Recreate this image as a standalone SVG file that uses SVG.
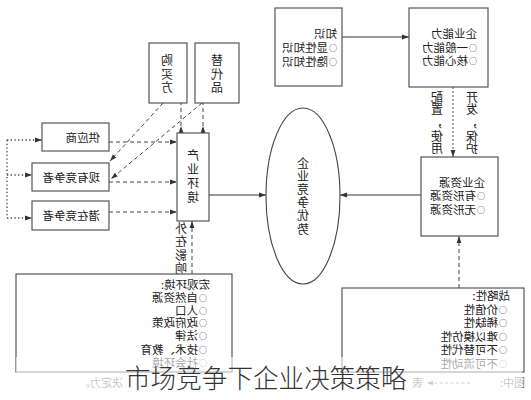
<svg xmlns="http://www.w3.org/2000/svg" width="531" height="400" viewBox="0 0 531 400">
<style>
.box{fill:#fff;stroke:#555;stroke-width:1.2}
.t{font-family:"Noto Sans CJK SC","Noto Sans CJK TC",sans-serif;font-size:11.5px;fill:#222}
.b{font-size:8px}
.v{font-family:"Noto Sans CJK SC","Noto Sans CJK TC",sans-serif;font-size:12px;fill:#222;text-anchor:middle}
.solid{stroke:#333;stroke-width:1;fill:none}
.dash{stroke:#444;stroke-width:1;stroke-dasharray:4 3;fill:none}
.fdash{stroke:#555;stroke-width:1;stroke-dasharray:2 2;fill:none}
.dot{stroke:#444;stroke-width:1.3;stroke-dasharray:1.3 2.4;fill:none}
.lg{font-family:"Noto Sans CJK SC",sans-serif;font-size:11px;fill:#777}
</style>
<defs>
<marker id="a" viewBox="0 0 7 6" refX="7" refY="3" markerWidth="7" markerHeight="6" markerUnits="userSpaceOnUse" orient="auto"><path d="M0,0.6 L7,3 L0,5.4 z" fill="#333"/></marker>
<marker id="s" viewBox="0 0 7 6" refX="0" refY="3" markerWidth="7" markerHeight="6" markerUnits="userSpaceOnUse" orient="auto"><path d="M0,0.6 L7,3 L0,5.4 z" fill="#333"/></marker>
</defs>
<rect width="531" height="400" fill="#fff"/>
<g transform="matrix(-1 0 0 1 531 0)">
<g id="connectors">
<path class="solid" d="M189,37 H122" marker-end="url(#a)"/>
<path class="fdash" d="M78,87 V157" marker-end="url(#a)"/>
<path class="solid" d="M110,195 H191" marker-end="url(#a)"/>
<path class="dash" d="M72,288 V236" marker-end="url(#a)"/>
<path class="solid" d="M322,195 H265" marker-end="url(#a)"/>
<path class="dash" d="M339,274 V221" marker-end="url(#a)"/>
<path class="dash" d="M422,142 H354" marker-end="url(#a)"/>
<path class="dash" d="M422,182 H354" marker-end="url(#a)"/>
<path class="dash" d="M422,212 H354" marker-end="url(#a)"/>
<path class="dash" d="M350,133 V103" marker-start="url(#s)"/>
<path class="dash" d="M328,133 V103" marker-start="url(#s)"/>
<path class="dash" d="M368,103 L421,161" marker-end="url(#a)"/>
<path class="dash" d="M329,103 L420,179" marker-end="url(#a)"/>
<path class="dot" d="M524,140 V218"/>
<path class="dot" d="M524,140 H489" marker-end="url(#a)"/>
<path class="dot" d="M524,175 H499" marker-end="url(#a)"/>
<path class="dot" d="M524,218 H499" marker-end="url(#a)"/>
<text class="v"><tspan x="59" y="101.5">开</tspan><tspan x="59" y="114">发</tspan><tspan x="59" y="127">，</tspan><tspan x="59" y="140.5">保</tspan><tspan x="59" y="152.5">护</tspan></text>
<text class="v"><tspan x="94" y="101.5">配</tspan><tspan x="94" y="114">置</tspan><tspan x="94" y="127">，</tspan><tspan x="94" y="140.5">使</tspan><tspan x="94" y="152.5">用</tspan></text>
<text class="v"><tspan x="350" y="232.5">外</tspan><tspan x="350" y="246">在</tspan><tspan x="350" y="259.5">影</tspan><tspan x="350" y="272.5">响</tspan></text>
</g>
<g id="n-knowledge"><rect class="box" x="189" y="8" width="67" height="78"/>
<text class="t" x="194" y="37.5">知识</text>
<text class="t" x="194" y="51.5"><tspan class="b" dy="-1">○</tspan><tspan dx="1" dy="1">显性知识</tspan></text>
<text class="t" x="194" y="65.5"><tspan class="b" dy="-1">○</tspan><tspan dx="1" dy="1">隐性知识</tspan></text></g>
<g id="n-ability"><rect class="box" x="43" y="8" width="79" height="79"/>
<text class="t" x="54" y="37.5">企业能力</text>
<text class="t" x="54" y="51.5"><tspan class="b" dy="-1">○</tspan><tspan dx="1" dy="1">一般能力</tspan></text>
<text class="t" x="54" y="65"><tspan class="b" dy="-1">○</tspan><tspan dx="1" dy="1">核心能力</tspan></text></g>
<g id="n-resource"><rect class="box" x="33" y="157" width="77" height="79"/>
<text class="t" x="46" y="186.5">企业资源</text>
<text class="t" x="46" y="200"><tspan class="b" dy="-1">○</tspan><tspan dx="1" dy="1">有形资源</tspan></text>
<text class="t" x="46" y="213.5"><tspan class="b" dy="-1">○</tspan><tspan dx="1" dy="1">无形资源</tspan></text></g>
<g id="n-advantage"><ellipse cx="228" cy="196" rx="37" ry="88" fill="#fff" stroke="#444" stroke-width="1.1"/>
<text class="v"><tspan x="228" y="167.5">企</tspan><tspan x="228" y="180.5">业</tspan><tspan x="228" y="193.5">竞</tspan><tspan x="228" y="206.5">争</tspan><tspan x="228" y="219.5">优</tspan><tspan x="228" y="233.5">势</tspan></text></g>
<g id="n-industry"><rect class="box" x="322" y="133" width="32" height="88"/>
<text class="v"><tspan x="338" y="159.5">产</tspan><tspan x="338" y="173.5">业</tspan><tspan x="338" y="187.5">环</tspan><tspan x="338" y="201.5">境</tspan></text></g>
<g id="n-buyer"><rect class="box" x="344" y="43" width="38" height="60"/>
<text class="v"><tspan x="364" y="64.5">购</tspan><tspan x="364" y="78.5">买</tspan><tspan x="364" y="92">方</tspan></text></g>
<g id="n-substitute"><rect class="box" x="292" y="43" width="44" height="60"/>
<text class="v"><tspan x="314" y="64.5">替</tspan><tspan x="314" y="78.5">代</tspan><tspan x="314" y="91.5">品</tspan></text></g>
<g id="n-supplier"><rect class="box" x="422" y="123" width="67" height="28"/>
<text class="t" x="431" y="142">供应商</text></g>
<g id="n-existing"><rect class="box" x="422" y="163" width="77" height="28"/>
<text class="t" x="431" y="182">现有竞争者</text></g>
<g id="n-potential"><rect class="box" x="422" y="201" width="77" height="29"/>
<text class="t" x="431" y="220">潜在竞争者</text></g>
<g id="n-macro"><rect class="box" x="299" y="274" width="216" height="98"/>
<text class="t" x="321" y="288.5">宏观环境:</text>
<text class="t" x="324" y="301.5"><tspan class="b" dy="-1">○</tspan><tspan dx="1" dy="1">自然资源</tspan></text>
<text class="t" x="324" y="314.5"><tspan class="b" dy="-1">○</tspan><tspan dx="1" dy="1">人口</tspan></text>
<text class="t" x="324" y="327"><tspan class="b" dy="-1">○</tspan><tspan dx="1" dy="1">政府政策</tspan></text>
<text class="t" x="324" y="340"><tspan class="b" dy="-1">○</tspan><tspan dx="1" dy="1">法律</tspan></text>
<text class="t" x="324" y="353.5"><tspan class="b" dy="-1">○</tspan><tspan dx="1" dy="1">技术、教育</tspan></text>
<text class="t" x="324" y="366.5"><tspan class="b" dy="-1">○</tspan><tspan dx="1" dy="1">社会环境</tspan></text></g>
<g id="n-strategic"><rect class="box" x="7" y="288" width="182" height="84"/>
<text class="t" x="21" y="300">战略性:</text>
<text class="t" x="24" y="313.5"><tspan class="b" dy="-1">○</tspan><tspan dx="1" dy="1">价值性</tspan></text>
<text class="t" x="24" y="327"><tspan class="b" dy="-1">○</tspan><tspan dx="1" dy="1">稀缺性</tspan></text>
<text class="t" x="24" y="340.5"><tspan class="b" dy="-1">○</tspan><tspan dx="1" dy="1">难以模仿性</tspan></text>
<text class="t" x="24" y="354"><tspan class="b" dy="-1">○</tspan><tspan dx="1" dy="1">不可替代性</tspan></text>
<text class="t" x="24" y="367.5"><tspan class="b" dy="-1">○</tspan><tspan dx="1" dy="1">不可流动性</tspan></text></g>
<g id="legend">
<text class="lg" x="6" y="387">图中:</text>
<path d="M61,383 H103" stroke="#888" stroke-width="1" stroke-dasharray="3 2.5" fill="none"/>
<path d="M104,383 l-6,-2.2 v4.4 z" fill="#888"/>
<text class="lg" x="108" y="387">表</text>
<text class="lg" x="408" y="387">决定力。</text>
</g>
</g>
<rect x="16" y="357" width="506" height="43" fill="#fff" fill-opacity="0.6"/>
<text x="125" y="388" font-family="'Noto Sans CJK SC',sans-serif" font-size="25.6" font-weight="300" fill="#333">市场竞争下企业决策策略</text>
</svg>
